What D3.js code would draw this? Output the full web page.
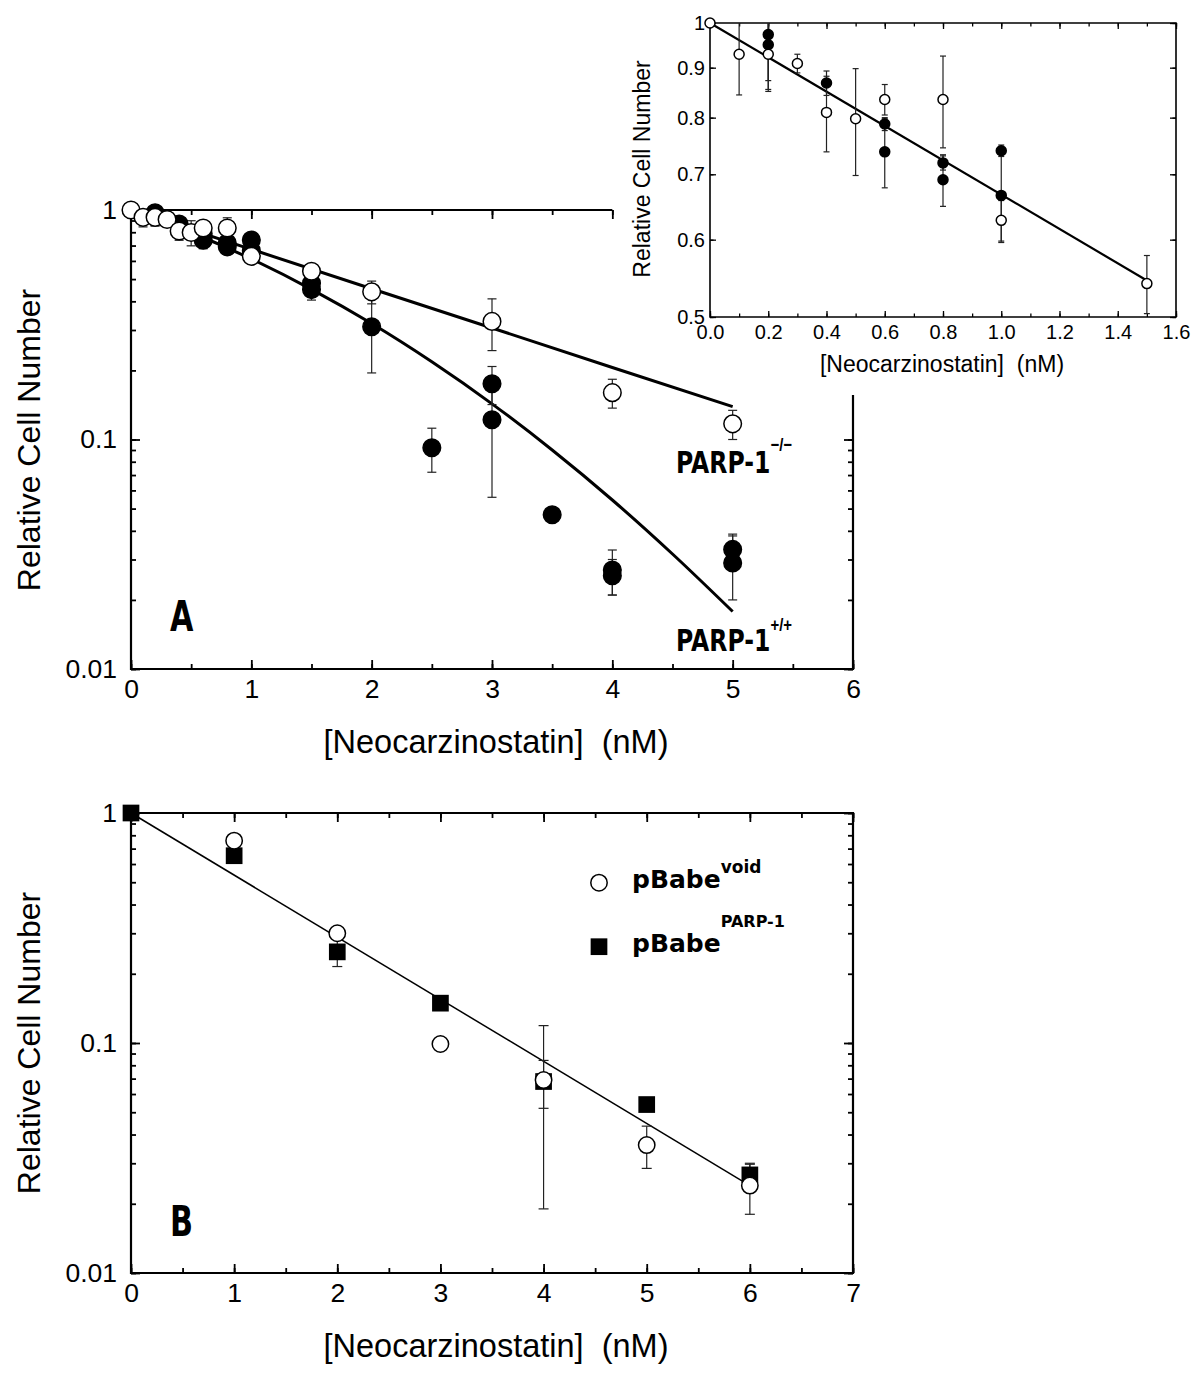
<!DOCTYPE html>
<html>
<head>
<meta charset="utf-8">
<script src="https://cdn.jsdelivr.net/npm/d3@7"></script>
<style>
body { margin: 0; background: #fff; }
</style>
</head>
<body>
<svg id="chart" width="1200" height="1380"></svg>
<script>
// ---- panel A : PARP-1 -/- (open circles)
const koX   = [0, 0.1, 0.2, 0.3, 0.4, 0.5, 0.6, 0.8, 1.0, 1.5, 2, 3, 4, 5];
const koY   = [1.0, 0.929, 0.929, 0.909, 0.81, 0.798, 0.835, 0.835, 0.628, 0.541, 0.44, 0.327, 0.16, 0.117];
const koErr = [0, 0.085, 0.078, 0.02, 0.072, 0.1, 0.03, 0.09, 0.03, 0.037, 0.05, 0.083, 0.023, 0.017];
// ---- panel A : PARP-1 +/+ (filled circles)
const wtX   = [0.2, 0.2, 0.4, 0.6, 0.6, 0.8, 0.8, 1.0, 1.0, 1.5, 1.5, 2, 2.5, 3, 3, 3.5, 4, 4, 5, 5];
const wtY   = [0.973, 0.95, 0.868, 0.788, 0.738, 0.719, 0.691, 0.74, 0.666, 0.48, 0.45, 0.31, 0.092, 0.175, 0.122, 0.047, 0.027, 0.0255, 0.0332, 0.029];
const wtErr = [0.1, 0.095, 0.025, 0.012, 0.06, 0.012, 0.042, 0.01, 0.07, 0.02, 0.045, 0.115, 0.02, 0.033, 0.066, 0.003, 0.006, 0.0045, 0.0055, 0.009];
// fitted curves
const fitKoX = [0, 1, 2, 3, 4, 5];
const fitKoY = [1, 0.674, 0.454, 0.306, 0.206, 0.139];
const fitWtX = [0, 0.5, 1, 1.5, 2, 2.5, 3, 3.5, 4, 4.5, 5];
const fitWtY = [1, 0.798, 0.612, 0.451, 0.32, 0.218, 0.143, 0.09, 0.0545, 0.0317, 0.0178];
// inset fit
const fitInX = [0, 1.5];
const fitInY = [1, 0.545];
// ---- panel B
const voidX   = [1, 2, 3, 4, 5, 6];
const voidY   = [0.758, 0.30, 0.099, 0.069, 0.036, 0.024];
const voidErr = [0, 0, 0, 0.05, 0.0075, 0.006];
const parpX   = [0, 1, 2, 3, 4, 5, 6];
const parpY   = [1.0, 0.652, 0.249, 0.149, 0.068, 0.054, 0.0267];
const parpErr = [0, 0, 0.034, 0, 0.016, 0, 0.003];
const fitBX = [0, 6];
const fitBY = [1, 0.024];
// ---- ticks
const xTicksA = [0, 1, 2, 3, 4, 5, 6];
const xTicksB = [0, 1, 2, 3, 4, 5, 6, 7];
const yTicksMain = [0.01, 0.1, 1];
const xTicksIn = [0, 0.2, 0.4, 0.6, 0.8, 1.0, 1.2, 1.4, 1.6];
const yTicksIn = [0.5, 0.6, 0.7, 0.8, 0.9, 1];

const FONT = "'Liberation Sans', Arial, Helvetica, sans-serif";
const BOLD = "'DejaVu Sans', Verdana, sans-serif";
const svg = d3.select('#chart');

function pts(xs, ys, es) {
  return xs.map((v, i) => ({ x: v, y: ys[i], e: es ? es[i] : 0 }));
}

function axes(g, x, y, o) {
  const [x0, x1] = x.range(), [y0, y1] = y.range();
  const add = (axis, tf) => g.append('g').attr('transform', tf).call(axis)
    .call(a => a.select('.domain').remove())
    .attr('font-size', o.fs).attr('font-family', FONT)
    .call(a => a.selectAll('line').attr('stroke-width', o.sw));
  add(d3.axisBottom(x).tickValues(o.xMinor).tickSize(-o.minor).tickFormat(''), `translate(0,${y0})`);
  add(d3.axisBottom(x).tickValues(o.xMajor).tickSize(-o.major).tickPadding(o.padX).tickFormat(o.fmtX), `translate(0,${y0})`);
  add(d3.axisTop(x).tickValues(o.xMinor.filter(o.topKeep)).tickSize(-o.minor).tickFormat(''), `translate(0,${y1})`);
  add(d3.axisTop(x).tickValues(o.xMajor.filter(o.topKeep)).tickSize(-o.major).tickFormat(''), `translate(0,${y1})`);
  add(d3.axisLeft(y).tickValues(o.yMinor).tickSize(-o.minor).tickFormat(''), `translate(${x0},0)`);
  add(d3.axisLeft(y).tickValues(o.yMajor).tickSize(-o.major).tickPadding(o.padY).tickFormat(o.fmtY), `translate(${x0},0)`);
  add(d3.axisRight(y).tickValues(o.yMinor.filter(o.rightKeep)).tickSize(-o.minor).tickFormat(''), `translate(${x1},0)`);
  add(d3.axisRight(y).tickValues(o.yMajor.filter(o.rightKeep)).tickSize(-o.major).tickFormat(''), `translate(${x1},0)`);
  g.append('path').attr('d', o.frame).attr('fill', 'none').attr('stroke', '#000').attr('stroke-width', o.frameW);
}

function clip(id, x, y) {
  svg.append('clipPath').attr('id', id).append('rect')
    .attr('x', x.range()[0]).attr('y', y.range()[1])
    .attr('width', x.range()[1] - x.range()[0]).attr('height', y.range()[0] - y.range()[1]);
}

function errorBars(g, x, y, data, cap, id) {
  const d = data.filter(p => p.e > 0);
  const eg = g.append('g').attr('clip-path', `url(#${id})`).attr('stroke', '#222').attr('stroke-width', 1.2);
  eg.selectAll('.v').data(d).join('line').attr('class', 'v')
    .attr('x1', p => x(p.x)).attr('x2', p => x(p.x))
    .attr('y1', p => y(p.y - p.e)).attr('y2', p => y(p.y + p.e));
  [-1, 1].forEach(s => {
    eg.selectAll('.c' + (s + 1)).data(d).join('line').attr('class', 'c' + (s + 1))
      .attr('x1', p => x(p.x) - cap / 2).attr('x2', p => x(p.x) + cap / 2)
      .attr('y1', p => y(p.y + s * p.e)).attr('y2', p => y(p.y + s * p.e));
  });
}

function circles(g, x, y, data, r, fill) {
  g.append('g').selectAll('circle').data(data).join('circle')
    .attr('cx', p => x(p.x)).attr('cy', p => y(p.y)).attr('r', r)
    .attr('fill', fill).attr('stroke', '#000').attr('stroke-width', 1.5);
}

function fitLine(g, x, y, xs, ys, w, curve) {
  g.append('path').datum(pts(xs, ys))
    .attr('d', d3.line().x(p => x(p.x)).y(p => y(p.y)).curve(curve || d3.curveLinear))
    .attr('fill', 'none').attr('stroke', '#000').attr('stroke-width', w);
}

function titles(g, cx, baseY, cy) {
  g.append('text').attr('x', cx).attr('y', baseY).attr('text-anchor', 'middle')
    .attr('font-family', FONT).attr('font-size', 32.5).text('[Neocarzinostatin]\u00a0\u00a0(nM)');
  g.append('text').attr('transform', `translate(40,${cy}) rotate(-90)`).attr('text-anchor', 'middle')
    .attr('font-family', FONT).attr('font-size', 32).text('Relative Cell Number');
}

function boldLabel(g, tx, ty, sx, size, main, sup, supSize, supDy, supFont) {
  const t = g.append('text').attr('transform', `translate(${tx},${ty}) scale(${sx},1)`)
    .attr('font-family', BOLD).attr('font-weight', 'bold').attr('font-size', size);
  t.append('tspan').text(main);
  if (sup) t.append('tspan').attr('font-size', supSize).attr('dy', supDy)
    .attr('font-family', supFont || BOLD).text(sup);
}

const fmtMain = d => d === 1 ? '1' : String(d);

// ================= panel A =================
const xA = d3.scaleLinear().domain([0, 6]).range([131, 853]);
const yA = d3.scaleLog().domain([0.01, 1]).range([669, 210]);
const gA = svg.append('g');
clip('clipA', xA, yA);
const cutY = 395;
axes(gA, xA, yA, {
  xMajor: xTicksA, xMinor: xA.ticks(12), yMajor: yTicksMain, yMinor: yA.ticks(),
  major: 9, minor: 5, fs: 26.5, sw: 1.8, padX: 10, padY: 14, frameW: 2.2,
  fmtX: d3.format('d'), fmtY: fmtMain,
  topKeep: v => v <= 4, rightKeep: v => yA(v) >= cutY,
  frame: `M${xA(4)},210H131V669H853V${cutY}`
});
titles(gA, 496, 753, 440);
fitLine(gA, xA, yA, fitKoX, fitKoY, 3);
fitLine(gA, xA, yA, fitWtX, fitWtY, 3, d3.curveMonotoneX);
const koPts = pts(koX, koY, koErr), wtPts = pts(wtX, wtY, wtErr);
errorBars(gA, xA, yA, wtPts, 9, 'clipA');
errorBars(gA, xA, yA, koPts, 9, 'clipA');
circles(gA, xA, yA, wtPts, 8.8, '#000');
circles(gA, xA, yA, koPts, 8.8, '#fff');
boldLabel(gA, 170, 631, 0.72, 42, 'A');
boldLabel(gA, 676, 473, 0.785, 30, 'PARP-1', '\u2212/\u2212', 19, -22, FONT);
boldLabel(gA, 676, 651, 0.785, 30, 'PARP-1', '+/+', 19, -20, FONT);

// ================= inset =================
const xI = d3.scaleLinear().domain([0, 1.6]).range([710, 1176]);
const yI = d3.scaleLog().domain([0.5, 1]).range([317, 23]);
const gI = svg.append('g');
clip('clipI', xI, yI);
axes(gI, xI, yI, {
  xMajor: xTicksIn, xMinor: xI.ticks(16), yMajor: yTicksIn, yMinor: yTicksIn,
  major: 6, minor: 3.5, fs: 20, sw: 1.3, padX: 8, padY: 5, frameW: 1.6,
  fmtX: d3.format('.1f'), fmtY: fmtMain,
  topKeep: () => true, rightKeep: () => true,
  frame: `M710,23H1176V317H710Z`
});
gI.append('text').attr('x', 942).attr('y', 372).attr('text-anchor', 'middle')
  .attr('font-family', FONT).attr('font-size', 23).text('[Neocarzinostatin]\u00a0\u00a0(nM)');
gI.append('text').attr('transform', 'translate(650,169) rotate(-90)').attr('text-anchor', 'middle')
  .attr('font-family', FONT).attr('font-size', 23).text('Relative Cell Number');
fitLine(gI, xI, yI, fitInX, fitInY, 2.2);
const inRange = p => p.x <= 1.6 && p.y >= 0.5;
errorBars(gI, xI, yI, wtPts.filter(inRange), 6, 'clipI');
errorBars(gI, xI, yI, koPts.filter(inRange), 6, 'clipI');
circles(gI, xI, yI, wtPts.filter(inRange), 5, '#000');
circles(gI, xI, yI, koPts.filter(inRange), 5, '#fff');

// ================= panel B =================
const xB = d3.scaleLinear().domain([0, 7]).range([131, 853]);
const yB = d3.scaleLog().domain([0.01, 1]).range([1273, 813]);
const gB = svg.append('g');
clip('clipB', xB, yB);
axes(gB, xB, yB, {
  xMajor: xTicksB, xMinor: xB.ticks(14), yMajor: yTicksMain, yMinor: yB.ticks(),
  major: 9, minor: 5, fs: 26.5, sw: 1.8, padX: 10, padY: 14, frameW: 2.2,
  fmtX: d3.format('d'), fmtY: fmtMain,
  topKeep: () => true, rightKeep: () => true,
  frame: `M131,813H853V1273H131Z`
});
titles(gB, 496, 1357, 1043);
fitLine(gB, xB, yB, fitBX, fitBY, 1.5);
const parpPts = pts(parpX, parpY, parpErr), voidPts = pts(voidX, voidY, voidErr);
errorBars(gB, xB, yB, parpPts, 10, 'clipB');
errorBars(gB, xB, yB, voidPts, 10, 'clipB');
const sq = 16.7;
gB.append('g').selectAll('rect').data(parpPts).join('rect')
  .attr('x', p => xB(p.x) - sq / 2).attr('y', p => yB(p.y) - sq / 2)
  .attr('width', sq).attr('height', sq).attr('fill', '#000');
circles(gB, xB, yB, voidPts, 8.2, '#fff');
boldLabel(gB, 170, 1236, 0.72, 42, 'B');

// legend
gB.append('circle').attr('cx', 599).attr('cy', 882.7).attr('r', 8.2)
  .attr('fill', '#fff').attr('stroke', '#000').attr('stroke-width', 1.5);
gB.append('rect').attr('x', 599 - sq / 2).attr('y', 946.7 - sq / 2).attr('width', sq).attr('height', sq).attr('fill', '#000');
boldLabel(gB, 632, 888, 1, 25, 'pBabe', 'void', 17, -15);
boldLabel(gB, 632, 952, 1, 25, 'pBabe', 'PARP-1', 16, -25);
</script>
</body>
</html>
